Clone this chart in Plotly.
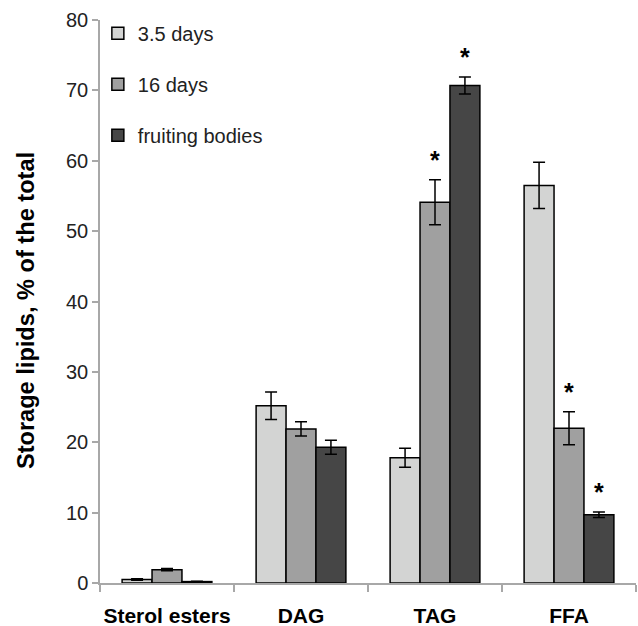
import plotly.graph_objects as go

categories = ["Sterol esters", "DAG", "TAG", "FFA"]
series_names = ["3.5 days", "16 days", "fruiting bodies"]
vals_35 = [0.5, 25.2, 17.8, 56.5]
err_35 = [0.1, 1.95, 1.35, 3.3]
vals_16 = [1.9, 21.9, 54.1, 22.0]
err_16 = [0.15, 1.0, 3.2, 2.35]
vals_fb = [0.2, 19.3, 70.7, 9.7]
err_fb = [0.05, 1.0, 1.2, 0.4]
colors = ["#d3d4d3", "#a0a0a0", "#464646"]
# significance marks: (series index, category index)
stars = [(1, 2), (2, 2), (1, 3), (2, 3)]
y_title = "Storage lipids, % of the total"

all_vals = [vals_35, vals_16, vals_fb]
all_errs = [err_35, err_16, err_fb]

FONT = "Liberation Sans, Arial"

fig = go.Figure()
for i, name in enumerate(series_names):
    fig.add_trace(go.Bar(
        name=name, x=categories, y=all_vals[i],
        marker=dict(color=colors[i], line=dict(color="black", width=1.5)),
        error_y=dict(type="data", array=all_errs[i], color="black", thickness=1.5, width=6),
        legendgroup=name,
        offsetgroup=str(i),
    ))

offsets = [-1, 0, 1]
group_frac = 0.67
for s, c in stars:
    top = all_vals[s][c] + all_errs[s][c]
    fig.add_annotation(
        x=c + offsets[s] * group_frac / 3, y=top, xref="x", yref="y",
        text="<b>*</b>", showarrow=False, yshift=20,
        font=dict(size=25, color="black", family=FONT),
    )

# y-axis title as rotated annotation
fig.add_annotation(
    x=-0.138, y=0.483, xref="paper", yref="paper",
    xanchor="center", yanchor="middle", textangle=-90,
    text="<b>%s</b>" % y_title, showarrow=False,
    font=dict(size=23.6, color="black", family=FONT),
)

fig.update_layout(
    width=638, height=626,
    margin=dict(l=100, r=2, t=20, b=43),
    paper_bgcolor="white", plot_bgcolor="white",
    barmode="group", bargap=0.33, bargroupgap=0,
    font=dict(family=FONT, size=20, color="#222"),
    legend=dict(x=-0.004, y=1.011, xanchor="left", yanchor="top",
                font=dict(size=20, color="#222", family=FONT), tracegroupgap=22,
                traceorder="grouped", bgcolor="rgba(0,0,0,0)"),
    showlegend=True,
)
fig.update_xaxes(
    type="category", range=[-0.5, 3.5], automargin=False,
    showline=True, linecolor="#a8a8a8", linewidth=1.5,
    ticks="outside", tickson="boundaries", ticklen=7, tickcolor="#a8a8a8", tickwidth=1.5,
    tickfont=dict(size=21, color="black", family=FONT),
    tickvals=categories, ticktext=["<b>%s</b>" % c for c in categories],
    tickangle=0, ticklabelstandoff=13,
    showgrid=False, zeroline=False,
)
fig.update_yaxes(
    range=[0, 80], dtick=10, automargin=False,
    showline=True, linecolor="#a8a8a8", linewidth=1.5,
    ticks="outside", ticklen=6, tickcolor="#a8a8a8", tickwidth=1.5,
    tickfont=dict(size=20, color="#222", family=FONT),
    showgrid=False, zeroline=False,
)
fig.write_html("out.html")
